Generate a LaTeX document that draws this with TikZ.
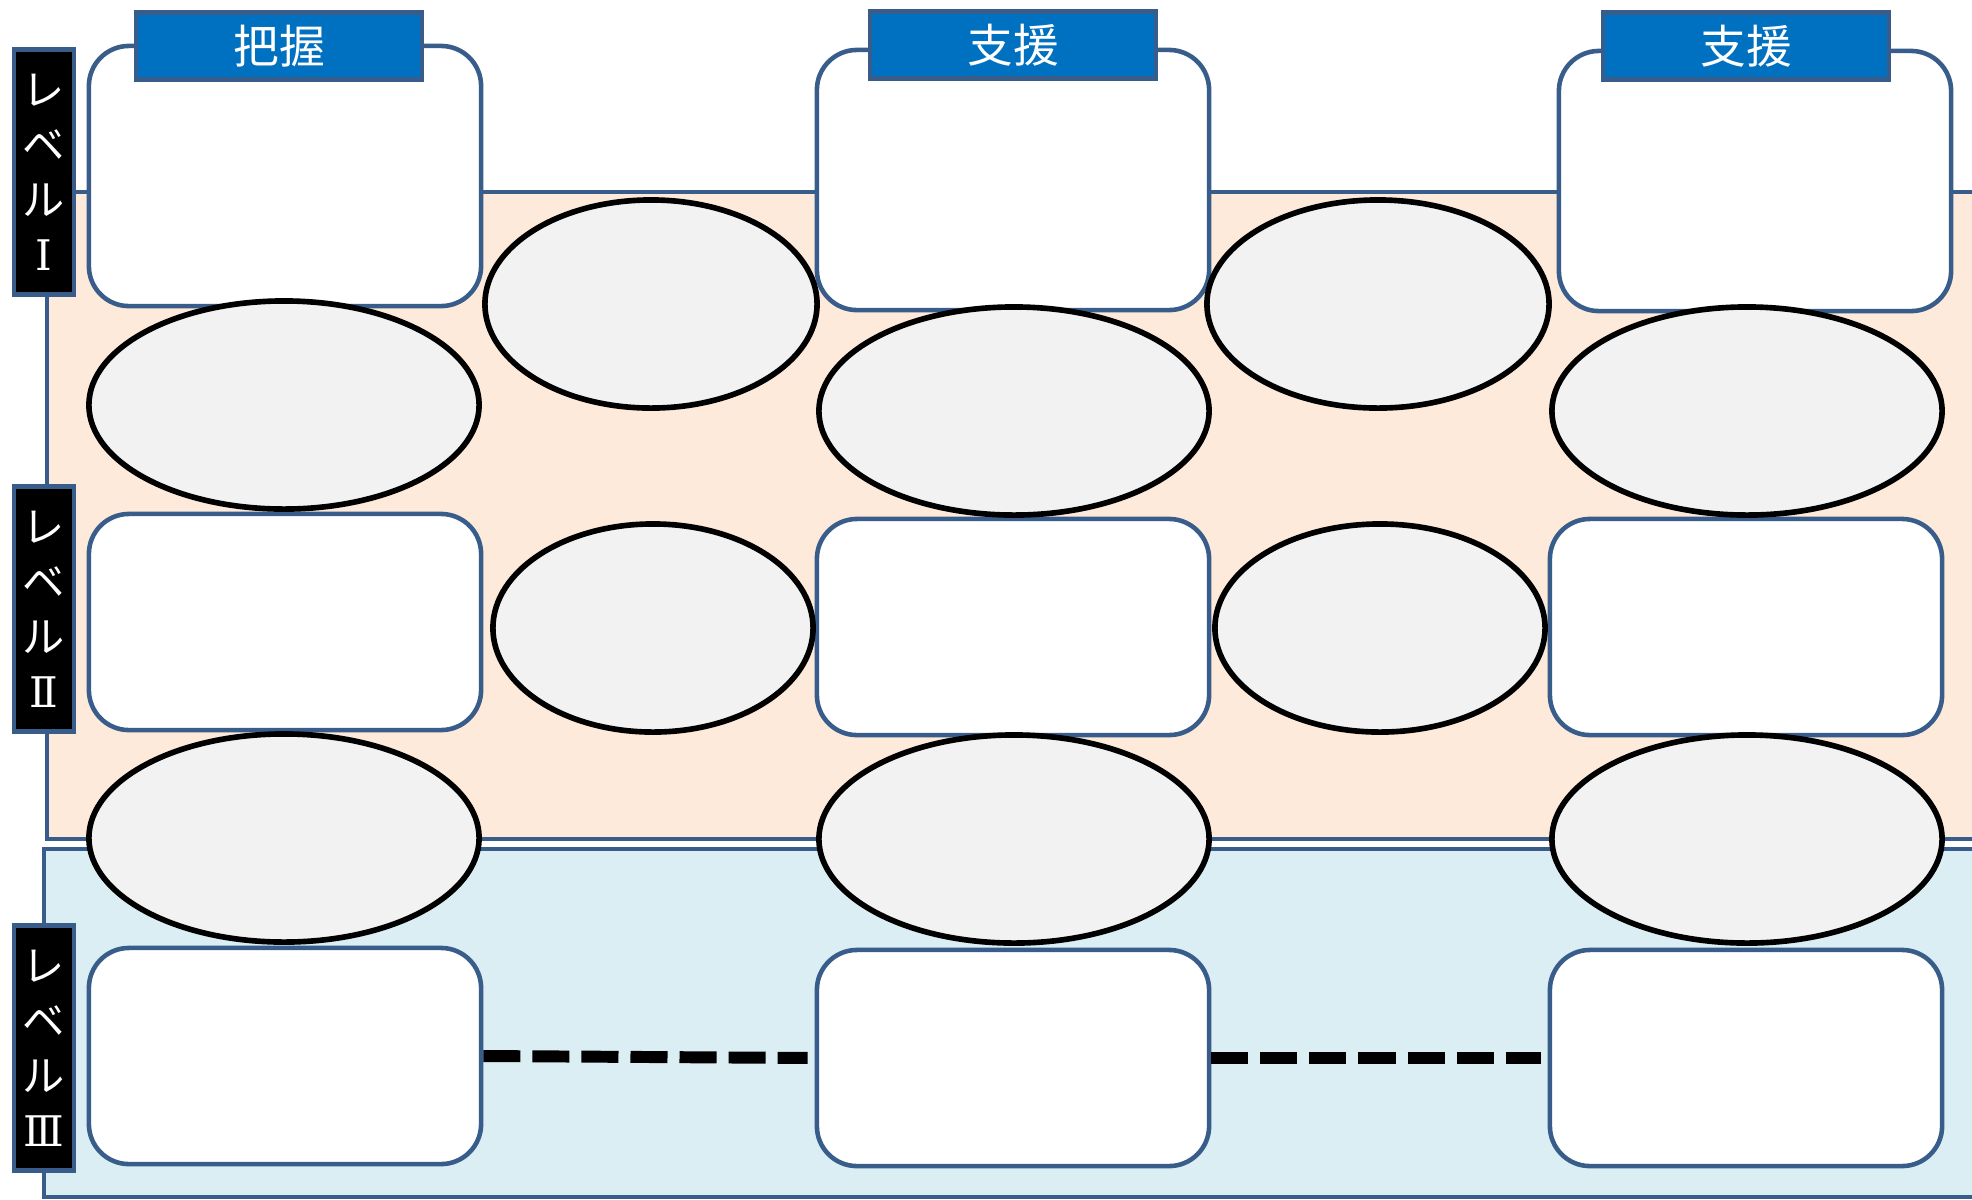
\documentclass[tikz,border=0pt]{standalone}
\usepackage{fontspec}
\usepackage{tikz}
\usetikzlibrary{shapes.geometric}
\newfontfamily\cjk{Noto Sans CJK JP}
\newfontfamily\numfont{DejaVu Serif}

\definecolor{lineblue}{HTML}{385D8A}
\definecolor{headblue}{HTML}{0070C0}
\definecolor{bandorange}{HTML}{FDEADA}
\definecolor{bandblue}{HTML}{DAEEF3}
\definecolor{bubblegray}{HTML}{F2F2F2}

\begin{document}
\begin{tikzpicture}[x=0.01cm,y=-0.01cm]

	\tikzstyle band=[draw=lineblue, line width=1.3pt];
	\tikzstyle cellbox=[draw=lineblue, line width=1.3pt, fill=white, rounded corners=0.4cm, inner sep=0pt, minimum width=3.92cm, minimum height=2.16cm];
	\tikzstyle topbox=[cellbox, minimum height=2.6cm];
	\tikzstyle bubble=[ellipse, draw=black, line width=1.6pt, fill=bubblegray, inner sep=0pt, minimum height=2.08cm];
	\tikzstyle headbox=[draw=lineblue, line width=1.3pt, fill=headblue, text=white, inner sep=0pt, minimum width=2.86cm, minimum height=0.67cm, font=\cjk\fontsize{13pt}{13pt}\selectfont];
	\tikzstyle levelbox=[draw=lineblue, line width=1.3pt, fill=black, text=white, align=center, inner sep=0pt, minimum width=0.6cm, minimum height=2.45cm, font=\cjk\fontsize{12pt}{15.6pt}\selectfont];
	\tikzstyle dash line=[line width=3.4pt, dash pattern=on 0.37cm off 0.12cm, shorten >=2pt];

	\clip (0,0) rectangle (1972,1199);

	% bands
	\draw[band, fill=bandorange] (47,192) rectangle (2100,839);
	\draw[band, fill=bandblue] (44,849) rectangle (2100,1197);

	% level I boxes
	\node[topbox] (t1) at (285,176) {};
	\node[topbox] (t2) at (1013,180) {};
	\node[topbox] (t3) at (1755,181) {};

	% level II boxes
	\node[cellbox] (m1) at (285,622) {};
	\node[cellbox] (m2) at (1013,627) {};
	\node[cellbox] (m3) at (1746,627) {};

	% level III boxes
	\node[cellbox] (b1) at (285,1056) {};
	\node[cellbox] (b2) at (1013,1058) {};
	\node[cellbox] (b3) at (1746,1058) {};

	% ellipses
	\node[bubble, minimum width=3.32cm] (a1) at (651,304) {};
	\node[bubble, minimum width=3.42cm] (a2) at (1378,304) {};
	\node[bubble, minimum width=3.9cm] (e1) at (284,405) {};
	\node[bubble, minimum width=3.9cm] (e2) at (1014,411) {};
	\node[bubble, minimum width=3.9cm] (e3) at (1747,411) {};
	\node[bubble, minimum width=3.2cm] (c1) at (653,628) {};
	\node[bubble, minimum width=3.3cm] (c2) at (1380,628) {};
	\node[bubble, minimum width=3.9cm] (d1) at (284,838) {};
	\node[bubble, minimum width=3.9cm] (d2) at (1014,839) {};
	\node[bubble, minimum width=3.9cm] (d3) at (1747,839) {};

	% dashed links
	\draw[dash line] (b1.east) -- (b2.west);
	\draw[dash line] (b2.east) -- (b3.west);

	% level labels
	\node[levelbox] (l1) at (44,172) {レ\\ベ\\ル\\{\numfont Ⅰ}};
	\node[levelbox] (l2) at (44,609) {レ\\ベ\\ル\\{\numfont Ⅱ}};
	\node[levelbox] (l3) at (44,1048) {レ\\ベ\\ル\\{\numfont Ⅲ}};

	% headers
	\node[headbox] (h1) at (279,46) {把握};
	\node[headbox] (h2) at (1013,45) {支援};
	\node[headbox] (h3) at (1746,46) {支援};

\end{tikzpicture}
\end{document}
